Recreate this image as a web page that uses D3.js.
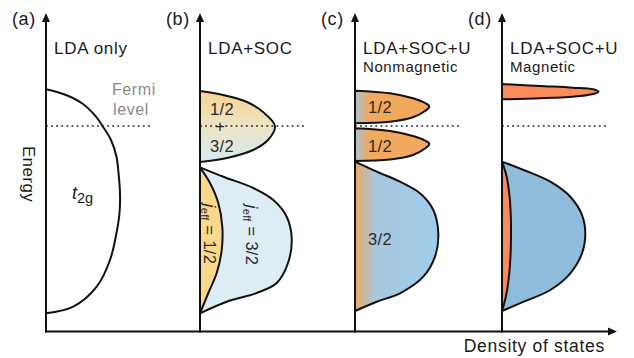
<!DOCTYPE html>
<html>
<head>
<meta charset="utf-8">
<script src="https://cdn.jsdelivr.net/npm/d3@7"></script>
<style>
  html, body { margin: 0; padding: 0; background: #fff; }
  svg { display: block; font-family: "Liberation Sans", Arial, Helvetica, sans-serif; }
</style>
</head>
<body>
<svg id="chart" width="634" height="358"></svg>
<script>
// Panel captions
const panelTags = ["(a)", "(b)", "(c)", "(d)"];
const panelTitles = ["LDA only", "LDA+SOC", "LDA+SOC+U", "LDA+SOC+U"];
const panelSubtitles = ["", "", "Nonmagnetic", "Magnetic"];

// Density-of-states lobes: [energy (Fermi level = 0), DOS]
const t2gBand = [[3.67,0],[3.1,2.0],[2.27,3.6],[0.93,5.0],[-0.07,5.7],[-1.4,6.5],[-3.07,7.05],[-4.7,7.25],[-6.7,7.4],[-8.7,7.35],[-10.7,7.05],[-13.4,6.4],[-16.07,5.07],[-18.07,2.73],[-18.73,0]];
const socMixed = [[3.5,0],[3.1,2.3],[2.4,4.7],[1.4,6.3],[0,7.5],[-1.4,6.8],[-2.4,5.3],[-3.2,2.7],[-3.6,0]];
const socJ32 = [[-4.13,0],[-5.07,2.33],[-6.2,5.33],[-7.4,7.33],[-9.07,8.67],[-11.23,9.17],[-13.7,8.8],[-15.7,7.67],[-16.7,5.67],[-17.57,2.67],[-18.73,0]];
const socJ12 = [[-4.13,0],[-5.7,1.0],[-7.7,1.83],[-10.07,2.23],[-12.4,2.17],[-14.7,1.67],[-16.7,0.83],[-18.73,0]];
const nmUpperHalf = [[3.53,0],[3.27,3.5],[2.77,5.8],[2.3,7.0],[1.95,7.43],[1.5,7.0],[0.87,5.8],[0.43,3.5],[0.27,0]];
const nmLowerHalf = [[-0.23,0],[-0.5,3.5],[-1.0,5.8],[-1.45,7.0],[-1.8,7.43],[-2.25,7.0],[-2.9,5.8],[-3.35,3.5],[-3.5,0]];
const nmThreeHalves = [[-3.57,0],[-4.57,2.17],[-5.57,4.5],[-6.73,6.5],[-8.4,7.83],[-10.73,8.33],[-13.07,8.0],[-15.07,6.83],[-16.73,4.5],[-17.57,2.17],[-18.5,0]];
const magUpperHalf = [[4.2,0],[4.0,3.8],[3.83,7.1],[3.67,9.1],[3.43,9.65],[3.17,9.0],[2.93,7.1],[2.77,3.8],[2.67,0]];
const magThreeHalves = [[-3.57,0],[-4.4,2.17],[-5.57,4.83],[-7.07,6.83],[-8.9,8.0],[-10.73,8.33],[-12.73,8.0],[-14.73,6.83],[-16.4,4.83],[-17.57,2.17],[-18.5,0]];
const magLowerHalf = [[-3.57,0],[-5,0.45],[-7,0.75],[-9,0.88],[-11,0.9],[-13,0.85],[-15,0.7],[-17,0.4],[-18.5,0]];

const fermiEnergy = 0;
const fermiLength = 10.4;   // DOS units covered by the dotted Fermi line

// Layout
const panelX = [46, 200, 355, 502];
const axisBottom = 331.5, axisTop = 13, axisRight = 617;
const ink = "#111";

const svg = d3.select("#chart");
const defs = svg.append("defs");

const y = d3.scaleLinear().domain([-20.55, 11.2]).range([axisBottom, 14]);
const x = d3.scaleLinear().domain([0, 10]).range([0, 100]);

// Gradients (coordinates are in each panel's local frame)
const gMix = defs.append("linearGradient").attr("id", "gMix")
  .attr("gradientUnits", "userSpaceOnUse")
  .attr("x1", 0).attr("x2", 0).attr("y1", y(3.5)).attr("y2", y(-3.6));
gMix.append("stop").attr("offset", 0).attr("stop-color", "#f8d48e");
gMix.append("stop").attr("offset", 0.5).attr("stop-color", "#ece4c4");
gMix.append("stop").attr("offset", 1).attr("stop-color", "#d6ebf3");

const gHalf = defs.append("linearGradient").attr("id", "gHalf")
  .attr("gradientUnits", "userSpaceOnUse")
  .attr("x1", x(0)).attr("x2", x(1.4)).attr("y1", 0).attr("y2", 0);
gHalf.append("stop").attr("offset", 0).attr("stop-color", "#aac3d3");
gHalf.append("stop").attr("offset", 1).attr("stop-color", "#f1a95e");

const gThree = defs.append("linearGradient").attr("id", "gThree")
  .attr("gradientUnits", "userSpaceOnUse")
  .attr("x1", x(0)).attr("x2", x(8.5)).attr("y1", 0).attr("y2", 0);
gThree.append("stop").attr("offset", 0).attr("stop-color", "#f0a860");
gThree.append("stop").attr("offset", 0.08).attr("stop-color", "#d2b491");
gThree.append("stop").attr("offset", 0.24).attr("stop-color", "#a8c7dd");
gThree.append("stop").attr("offset", 1).attr("stop-color", "#9dcdec");

const lobes = [
  { panel: 0, data: t2gBand, fill: "none" },
  { panel: 1, data: socMixed, fill: "url(#gMix)" },
  { panel: 1, data: socJ32, fill: "#dcedf5" },
  { panel: 1, data: socJ12, fill: "#fad98c" },
  { panel: 2, data: nmUpperHalf, fill: "url(#gHalf)" },
  { panel: 2, data: nmLowerHalf, fill: "url(#gHalf)" },
  { panel: 2, data: nmThreeHalves, fill: "url(#gThree)" },
  { panel: 3, data: magUpperHalf, fill: "#fb8b59" },
  { panel: 3, data: magThreeHalves, fill: "#8fbcdb" },
  { panel: 3, data: magLowerHalf, fill: "#fb8b59" }
];

const line = d3.line()
  .x(d => x(d[1]))
  .y(d => y(d[0]))
  .curve(d3.curveCatmullRom.alpha(0.5));

const lobeG = svg.append("g");
lobes.forEach(l => {
  lobeG.append("path")
    .attr("transform", `translate(${panelX[l.panel]},0)`)
    .attr("d", line(l.data) + (l.fill === "none" ? "" : "Z"))
    .attr("fill", l.fill)
    .attr("stroke", ink)
    .attr("stroke-width", 2)
    .attr("stroke-linejoin", "round");
});

// Fermi level
panelX.forEach(px => {
  svg.append("line")
    .attr("x1", px + x(0)).attr("x2", px + x(fermiLength))
    .attr("y1", y(fermiEnergy)).attr("y2", y(fermiEnergy))
    .attr("stroke", "#222").attr("stroke-width", 1.6)
    .attr("stroke-dasharray", "1.8,3.3");
});

// Axes
const axisG = svg.append("g");
panelX.forEach(px => {
  axisG.append("line")
    .attr("x1", px).attr("x2", px)
    .attr("y1", axisBottom + 1).attr("y2", axisTop + 6)
    .attr("stroke", ink).attr("stroke-width", 2);
  axisG.append("path")
    .attr("d", `M${px},${axisTop} L${px - 4},${axisTop + 9} L${px + 4},${axisTop + 9} Z`)
    .attr("fill", ink);
});
axisG.append("line")
  .attr("x1", panelX[0] - 1).attr("x2", axisRight - 6)
  .attr("y1", axisBottom).attr("y2", axisBottom)
  .attr("stroke", ink).attr("stroke-width", 2);
axisG.append("path")
  .attr("d", `M${axisRight},${axisBottom} L${axisRight - 9},${axisBottom - 4} L${axisRight - 9},${axisBottom + 4} Z`)
  .attr("fill", ink);

// Panel captions
const textFill = "#1a1a1a";
panelX.forEach((px, i) => {
  svg.append("text").attr("x", px - 34).attr("y", 25)
    .attr("font-size", 18).attr("letter-spacing", 0.6).attr("fill", textFill).text(panelTags[i]);
  svg.append("text").attr("x", px + 8).attr("y", 54)
    .attr("font-size", 17).attr("letter-spacing", 0.7).attr("fill", textFill).text(panelTitles[i]);
  if (panelSubtitles[i]) {
    svg.append("text").attr("x", px + 8).attr("y", 72)
      .attr("font-size", 15).attr("letter-spacing", 0.6).attr("fill", textFill).text(panelSubtitles[i]);
  }
});

// Fermi level note
svg.append("text").attr("x", 112).attr("y", 95).attr("font-size", 16)
  .attr("letter-spacing", 0.6).attr("fill", "#8a8a8a").text("Fermi");
svg.append("text").attr("x", 113).attr("y", 115).attr("font-size", 16)
  .attr("letter-spacing", 0.6).attr("fill", "#8a8a8a").text("level");

// t2g label
const t2g = svg.append("text").attr("x", 72).attr("y", 199)
  .attr("font-size", 18).attr("fill", textFill);
t2g.append("tspan").attr("font-style", "italic").text("t");
t2g.append("tspan").attr("font-size", 14.5).attr("dy", 4).text("2g");

// Band labels
const bandText = "#2a2a2a";
function label(txt, px, py) {
  svg.append("text").attr("x", px).attr("y", py)
    .attr("font-size", 16.5).attr("letter-spacing", 0.4).attr("fill", bandText).text(txt);
}
label("1/2", panelX[1] + 10, 115);
svg.append("text").attr("x", panelX[1] + 20).attr("y", y(fermiEnergy) + 5.5)
  .attr("text-anchor", "middle").attr("font-size", 17).attr("fill", bandText).text("+");
label("3/2", panelX[1] + 10, 152);
label("1/2", panelX[2] + 13, 113);
label("1/2", panelX[2] + 13, 152);
label("3/2", panelX[2] + 13, 245);

function jeff(cx, cy, value) {
  const t = svg.append("text")
    .attr("transform", `translate(${cx},${cy}) rotate(90)`)
    .attr("text-anchor", "middle")
    .attr("font-size", 16.5).attr("letter-spacing", 0.3).attr("fill", bandText);
  t.append("tspan").attr("font-style", "italic").text("j");
  t.append("tspan").attr("font-size", 11).attr("dy", 3).text("eff");
  t.append("tspan").attr("dy", -3).text(" = " + value);
}
jeff(panelX[1] + 46, 235, "3/2");
jeff(panelX[1] + 3.5, 234, "1/2");

// Axis titles
svg.append("text")
  .attr("transform", `translate(23,174) rotate(90)`)
  .attr("text-anchor", "middle").attr("font-size", 17).attr("letter-spacing", 0.4)
  .attr("fill", textFill).text("Energy");
svg.append("text").attr("x", 605).attr("y", 352)
  .attr("text-anchor", "end").attr("font-size", 17.5).attr("letter-spacing", 0.7)
  .attr("fill", textFill).text("Density of states");
</script>
</body>
</html>
